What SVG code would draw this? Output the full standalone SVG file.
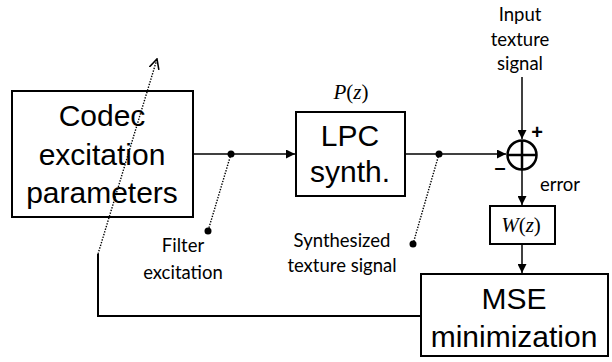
<svg xmlns="http://www.w3.org/2000/svg" width="612" height="362" viewBox="0 0 612 362">
  <style>
    .box { fill: none; stroke: #000; stroke-width: 2; }
    .wire { fill: none; stroke: #000; stroke-width: 1.5; }
    .fb { fill: none; stroke: #000; stroke-width: 2; }
    .dot { fill: none; stroke: #000; stroke-width: 1.4; stroke-dasharray: 1.4 1.4; }
    .big { font-family: "Liberation Sans", Arial, sans-serif; font-size: 30px; text-anchor: middle; fill: #000; }
    .lbl { font-family: Lato, "Open Sans", sans-serif; font-size: 18.5px; text-anchor: middle; fill: #000; }
    .sign { font-family: "Liberation Sans", Arial, sans-serif; font-size: 20px; font-weight: bold; text-anchor: middle; fill: #000; }
    .math { font-family: "Liberation Serif", "Times New Roman", serif; font-size: 21px; text-anchor: middle; fill: #000; }
    .it { font-style: italic; }
  </style>
  <defs>
    <marker id="arr" viewBox="0 0 10 10" refX="10" refY="5" markerWidth="9" markerHeight="9" markerUnits="userSpaceOnUse" orient="auto">
      <path d="M0,0 L10,5 L0,10 Z" fill="#000"/>
    </marker>
    <marker id="open" viewBox="0 0 10 10" refX="9" refY="5" markerWidth="11" markerHeight="11" markerUnits="userSpaceOnUse" orient="auto">
      <path d="M0,0.5 L9,5 L0,9.5" fill="none" stroke="#000" stroke-width="1.4"/>
    </marker>
  </defs>

  <!-- signal flow -->
  <g id="connectors">
    <line class="wire" x1="193" y1="154" x2="295" y2="154" marker-end="url(#arr)"/>
    <line class="wire" x1="405" y1="154" x2="506" y2="154" marker-end="url(#arr)"/>
    <line class="wire" x1="522" y1="77" x2="522" y2="139" marker-end="url(#arr)"/>
    <line class="wire" x1="522" y1="169" x2="522" y2="205" marker-end="url(#arr)"/>
    <line class="wire" x1="522" y1="244" x2="522" y2="273" marker-end="url(#arr)"/>
    <!-- feedback path -->
    <polyline class="fb" points="421,316 98,316 98,254"/>
    <line class="dot" x1="98" y1="254" x2="157" y2="59" marker-end="url(#open)"/>
    <!-- probe points -->
    <circle cx="231" cy="154" r="3.5" fill="#000"/>
    <line class="dot" x1="231" y1="154" x2="208" y2="231"/>
    <circle cx="208" cy="231" r="3.5" fill="#000"/>
    <circle cx="439" cy="154" r="3.5" fill="#000"/>
    <line class="dot" x1="439" y1="154" x2="413" y2="244"/>
    <circle cx="413" cy="244" r="3.5" fill="#000"/>
  </g>

  <g id="codec">
    <rect class="box" x="12" y="91" width="181" height="126"/>
    <text class="big" x="102" y="126">Codec</text>
    <text class="big" x="102" y="165">excitation</text>
    <text class="big" x="102" y="203">parameters</text>
  </g>

  <g id="lpc">
    <rect class="box" x="296" y="112" width="109" height="84"/>
    <text class="big" x="350" y="146">LPC</text>
    <text class="big" x="350" y="182">synth.</text>
    <text class="math" x="351" y="99"><tspan class="it">P</tspan>(<tspan class="it">z</tspan>)</text>
  </g>

  <g id="sum">
    <circle cx="522" cy="155" r="14.5" fill="#fff" stroke="#000" stroke-width="2.5"/>
    <line x1="507.5" y1="155" x2="536.5" y2="155" stroke="#000" stroke-width="2.5"/>
    <line x1="522" y1="140.5" x2="522" y2="169.5" stroke="#000" stroke-width="2.5"/>
    <text class="sign" x="537" y="139">+</text>
    <text class="sign" x="500" y="174">–</text>
  </g>

  <g id="weight">
    <rect class="box" x="490" y="206" width="65" height="38"/>
    <text class="math" x="521" y="232"><tspan class="it">W</tspan>(<tspan class="it">z</tspan>)</text>
  </g>

  <g id="mse">
    <rect class="box" x="421" y="274" width="187" height="82"/>
    <text class="big" x="514" y="309">MSE</text>
    <text class="big" x="514" y="347">minimization</text>
  </g>

  <g id="labels">
    <text class="lbl" x="520" y="21">Input</text>
    <text class="lbl" x="520" y="46">texture</text>
    <text class="lbl" x="520" y="70">signal</text>
    <text class="lbl" x="560" y="191">error</text>
    <text class="lbl" x="183" y="252">Filter</text>
    <text class="lbl" x="183" y="279">excitation</text>
    <text class="lbl" x="342" y="247">Synthesized</text>
    <text class="lbl" x="342" y="272">texture signal</text>
  </g>
</svg>
